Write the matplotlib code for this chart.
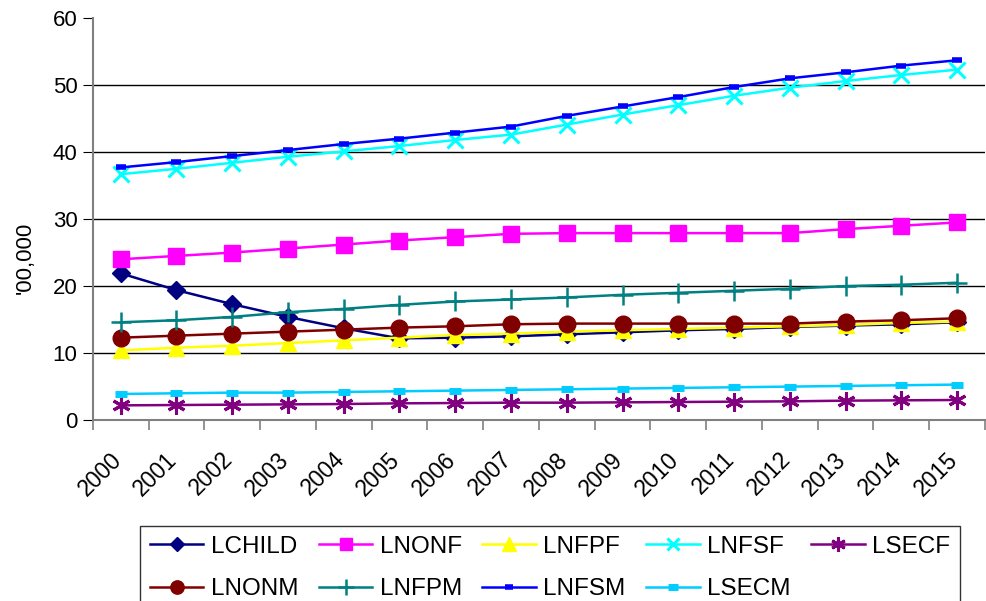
import matplotlib
matplotlib.use('Agg')
import matplotlib.pyplot as plt
import matplotlib.transforms as mtransforms

years = [str(y) for y in range(2000, 2016)]

lchild = [21.9, 19.4, 17.3, 15.4, 13.7, 12.2, 12.3, 12.5, 12.8, 13.1, 13.4, 13.6, 13.9, 14.1, 14.3, 14.6]
lnonf = [24.0, 24.5, 25.0, 25.6, 26.2, 26.8, 27.3, 27.8, 27.9, 27.9, 27.9, 27.9, 27.9, 28.5, 29.0, 29.5]
lnfpf = [10.4, 10.8, 11.1, 11.5, 11.9, 12.3, 12.7, 12.9, 13.2, 13.4, 13.6, 13.8, 14.0, 14.2, 14.5, 14.7]
lnfsf = [36.7, 37.5, 38.4, 39.3, 40.1, 40.9, 41.8, 42.6, 44.1, 45.6, 47.0, 48.4, 49.6, 50.6, 51.5, 52.3]
lsecf = [2.2, 2.25, 2.3, 2.35, 2.4, 2.5, 2.55, 2.6, 2.6, 2.65, 2.7, 2.75, 2.8, 2.9, 2.95, 3.0]
lnonm = [12.3, 12.6, 12.9, 13.2, 13.5, 13.8, 14.0, 14.3, 14.4, 14.4, 14.4, 14.4, 14.4, 14.7, 14.9, 15.2]
lnfpm = [14.6, 14.9, 15.4, 16.1, 16.6, 17.2, 17.7, 18.0, 18.3, 18.7, 19.0, 19.3, 19.6, 20.0, 20.2, 20.5]
lnfsm = [37.7, 38.5, 39.4, 40.3, 41.2, 42.0, 42.9, 43.8, 45.4, 46.8, 48.2, 49.7, 51.0, 51.9, 52.9, 53.7]
lsecm = [3.9, 4.0, 4.1, 4.1, 4.2, 4.3, 4.4, 4.5, 4.6, 4.7, 4.8, 4.9, 5.0, 5.1, 5.2, 5.3]

plt.rcParams['font.family'] = ['Liberation Sans', 'DejaVu Sans']

fig = plt.figure(figsize=(9.87, 6.01), dpi=100)
ax = fig.add_axes([0.094, 0.301, 0.904, 0.669])
x = list(range(len(years)))

series = [
    ('LCHILD', lchild, dict(color='#000080', marker='D', ms=9)),
    ('LNONF', lnonf, dict(color='#FF00FF', marker='s', ms=11)),
    ('LNFPF', lnfpf, dict(color='#FFFF00', marker='^', ms=12)),
    ('LNFSF', lnfsf, dict(color='#00FFFF', marker='x', ms=11, mew=2.2)),
    ('LSECF', lsecf, dict(color='#800080', marker=(6, 2, 0), ms=13, mew=2.2)),
    ('LNONM', lnonm, dict(color='#800000', marker='o', ms=12)),
    ('LNFPM', lnfpm, dict(color='#008080', marker='+', ms=15, mew=1.8)),
    ('LNFSM', lnfsm, dict(color='#0000FF', marker='_', ms=7, mew=4)),
    ('LSECM', lsecm, dict(color='#00CCFF', marker='_', ms=9, mew=5)),
]
lines = {}
for name, vals, st in series:
    lines[name], = ax.plot(x, vals, label=name, lw=1.8, **st)

ax.set_xlim(-0.5, 15.5)
ax.set_ylim(0, 60)
ax.set_yticks(range(0, 61, 10))
for g in range(10, 60, 10):
    ax.axhline(g, color='black', lw=1, zorder=0)
ax.set_xticks(x)
ax.set_xticklabels(years, rotation=45, ha='right', rotation_mode='anchor')
ax.set_xticks([i - 0.5 for i in range(17)], minor=True)
ax.tick_params(axis='x', which='major', length=0, pad=20, labelsize=16.5)
ax.tick_params(axis='x', which='minor', length=7, color='#808080', width=1.2)
ax.tick_params(axis='y', length=7, labelsize=16, color='black', pad=4)
# nudge year labels a little to the left, like the original
shift = mtransforms.ScaledTranslation(-0.11, 0, fig.dpi_scale_trans)
for lab in ax.get_xticklabels():
    lab.set_transform(lab.get_transform() + shift)
ax.spines['top'].set_visible(False)
ax.spines['right'].set_visible(False)
ax.spines['left'].set_color('#808080')
ax.spines['left'].set_linewidth(1.5)
ax.spines['bottom'].set_color('#808080')
ax.spines['bottom'].set_linewidth(1.5)
fig.text(25 / 987, 1 - 258 / 601, "'00,000", rotation=90, fontsize=16,
         ha='center', va='center')

# row-wise legend order with 5 columns
order = ['LCHILD', 'LNONM', 'LNONF', 'LNFPM', 'LNFPF', 'LNFSM', 'LNFSF', 'LSECM', 'LSECF']
leg = fig.legend([lines[n] for n in order], order, loc='upper left',
                 bbox_to_anchor=(0.142, 1 - 526 / 601), ncol=5,
                 fontsize=17.5, frameon=True, fancybox=False, edgecolor='black',
                 handlelength=2.2, handletextpad=0.3, columnspacing=0.85,
                 borderpad=0.4, labelspacing=0.85, markerscale=0.8,
                 borderaxespad=0)
leg.get_frame().set_linewidth(1)

fig.savefig('out.png', dpi=100)
